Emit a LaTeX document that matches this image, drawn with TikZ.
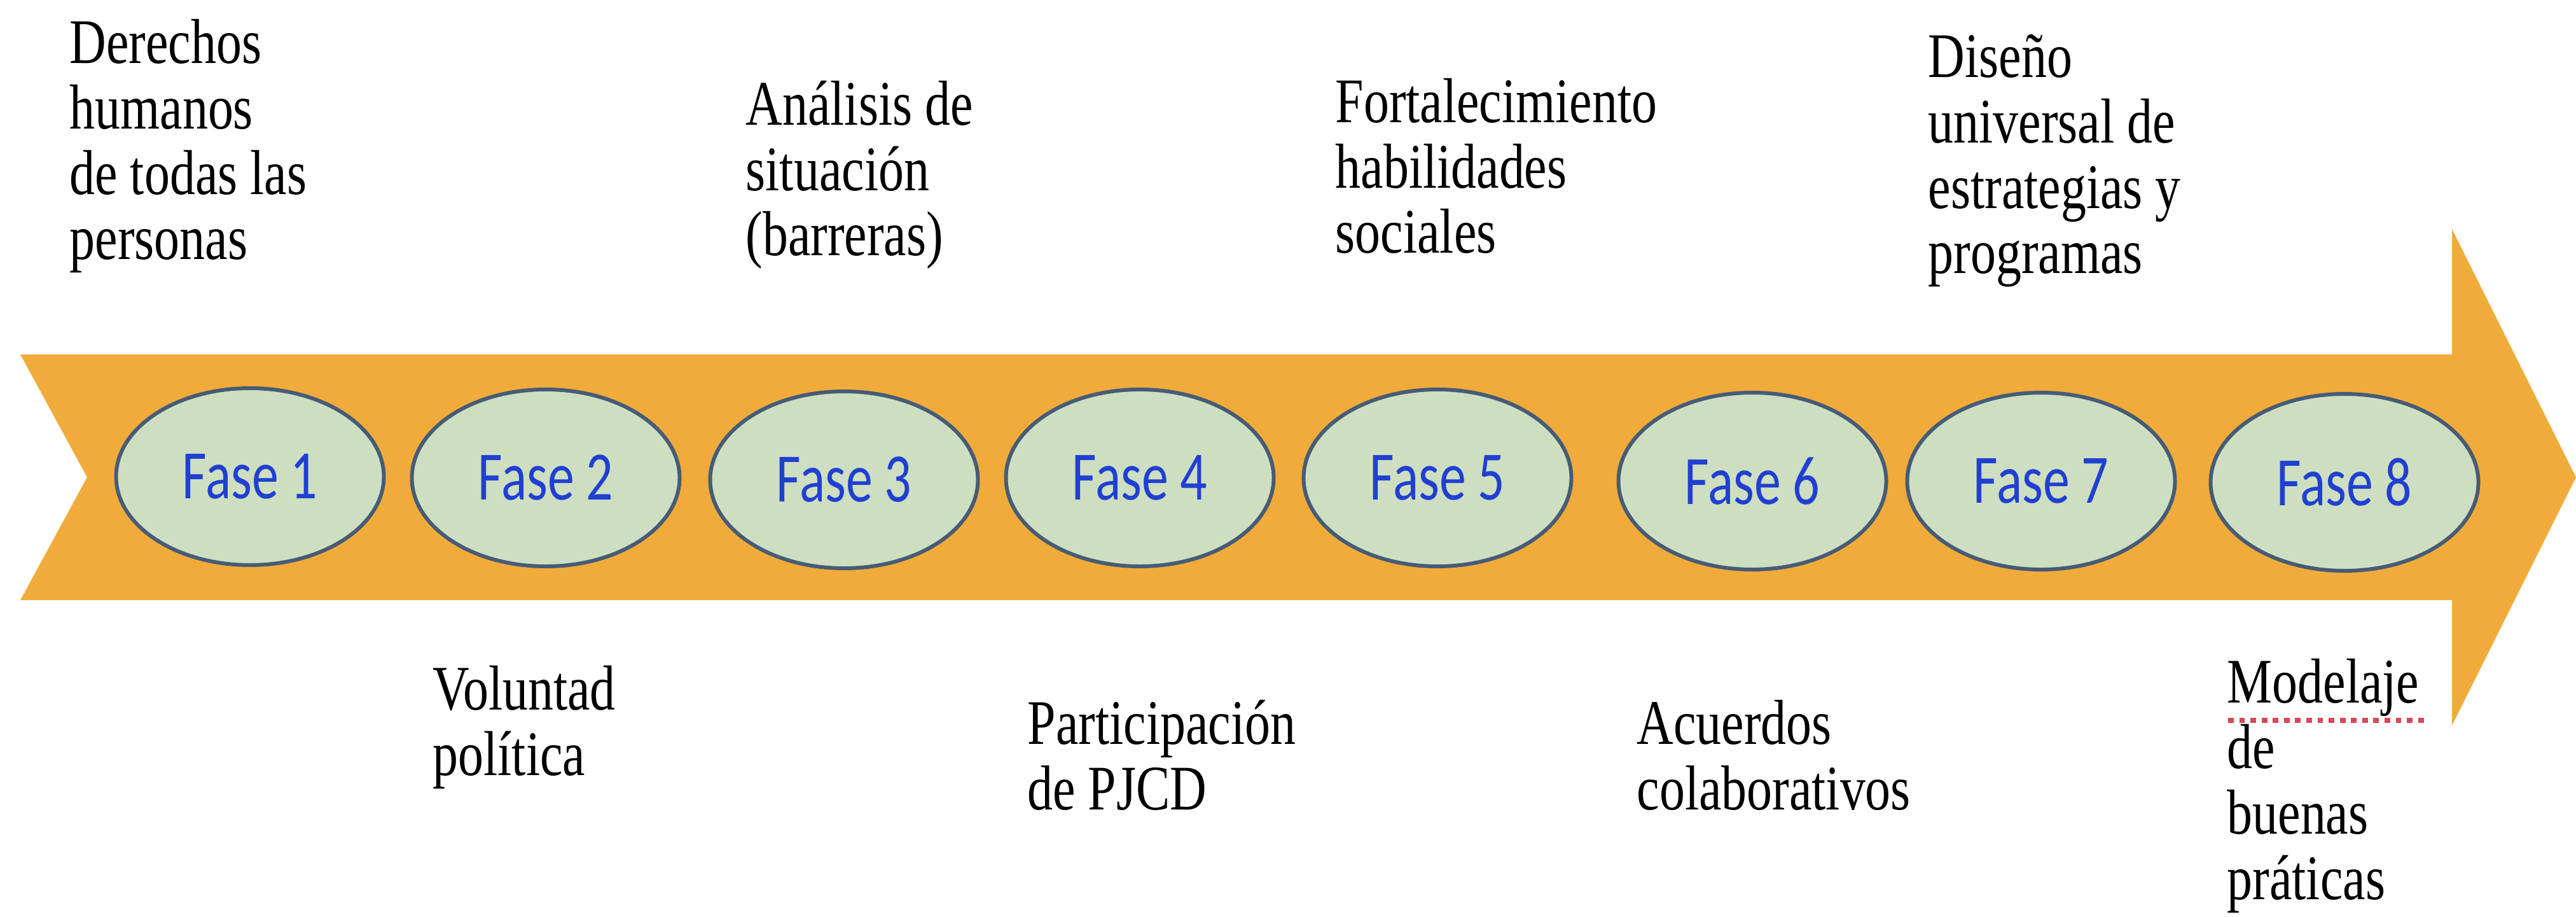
\documentclass[tikz,border=0pt]{standalone}
\usepackage{fontspec}
\setmainfont{Liberation Serif}[FakeStretch=0.8]
\newfontfamily\fasefont{Carlito}[FakeStretch=0.77]
\usepackage{tikz}
\usetikzlibrary{shapes.geometric}
\definecolor{faseorange}{RGB}{241,171,58}
\definecolor{fasegreen}{RGB}{206,222,192}
\definecolor{faseedge}{RGB}{70,92,118}
\definecolor{faseblue}{RGB}{32,64,210}
\definecolor{spellred}{RGB}{214,72,92}

\begin{document}
\begin{tikzpicture}[
    fase/.style={ellipse, draw=faseedge, line width=1.7pt, fill=fasegreen,
      minimum width=4.21cm, minimum height=2.78cm, inner sep=0pt,
      font=\fasefont\fontsize{31}{31}\selectfont, text=faseblue},
    lab/.style={anchor=base west, align=left, inner sep=0pt,
      font=\fontsize{28.4}{29.3}\selectfont}
  ]
                \useasboundingbox (0,0) rectangle (40.5,-14.41);

                % Timeline arrow
                \fill[faseorange] (0.32,-5.57) -- (38.55,-5.57) -- (38.55,-3.60)
                  -- (40.50,-7.50) -- (38.55,-11.40) -- (38.55,-9.43)
                  -- (0.32,-9.43) -- (1.37,-7.50) -- cycle;

                % Phases
                \node[fase] (fase1) at (3.93,-7.49) {Fase 1};
                \node[fase] (fase2) at (8.58,-7.51) {Fase 2};
                \node[fase] (fase3) at (13.27,-7.54) {Fase 3};
                \node[fase] (fase4) at (17.92,-7.51) {Fase 4};
                \node[fase] (fase5) at (22.60,-7.51) {Fase 5};
                \node[fase] (fase6) at (27.55,-7.56) {Fase 6};
                \node[fase] (fase7) at (32.09,-7.56) {Fase 7};
                \node[fase] (fase8) at (36.86,-7.58) {Fase 8};

                % Labels above the arrow (placed by their last line)
                \node[lab] (lab1) at (1.09,-4.08) {Derechos\\humanos\\de todas las\\personas};
                \node[lab] (lab3) at (11.72,-4.02) {Análisis de\\situación\\(barreras)};
                \node[lab] (lab5) at (20.99,-3.98) {Fortalecimiento\\habilidades\\sociales};
                \node[lab] (lab7) at (30.31,-4.30) {Diseño\\universal de\\estrategias y\\programas};

                % Labels below the arrow
                \node[lab] (lab2) at (6.80,-12.18) {Voluntad\\política};
                \node[lab] (lab4) at (16.15,-12.72) {Participación\\de PJCD};
                \node[lab] (lab6) at (25.73,-12.72) {Acuerdos\\colaborativos};
                \node[lab] (lab8) at (35.01,-14.13) {Modelaje\\de\\buenas\\práticas};
                \draw[spellred, line width=2pt, dash pattern=on 2.5pt off 2.5pt] (35.03,-11.32) -- (38.11,-11.32);
\end{tikzpicture}
\end{document}
